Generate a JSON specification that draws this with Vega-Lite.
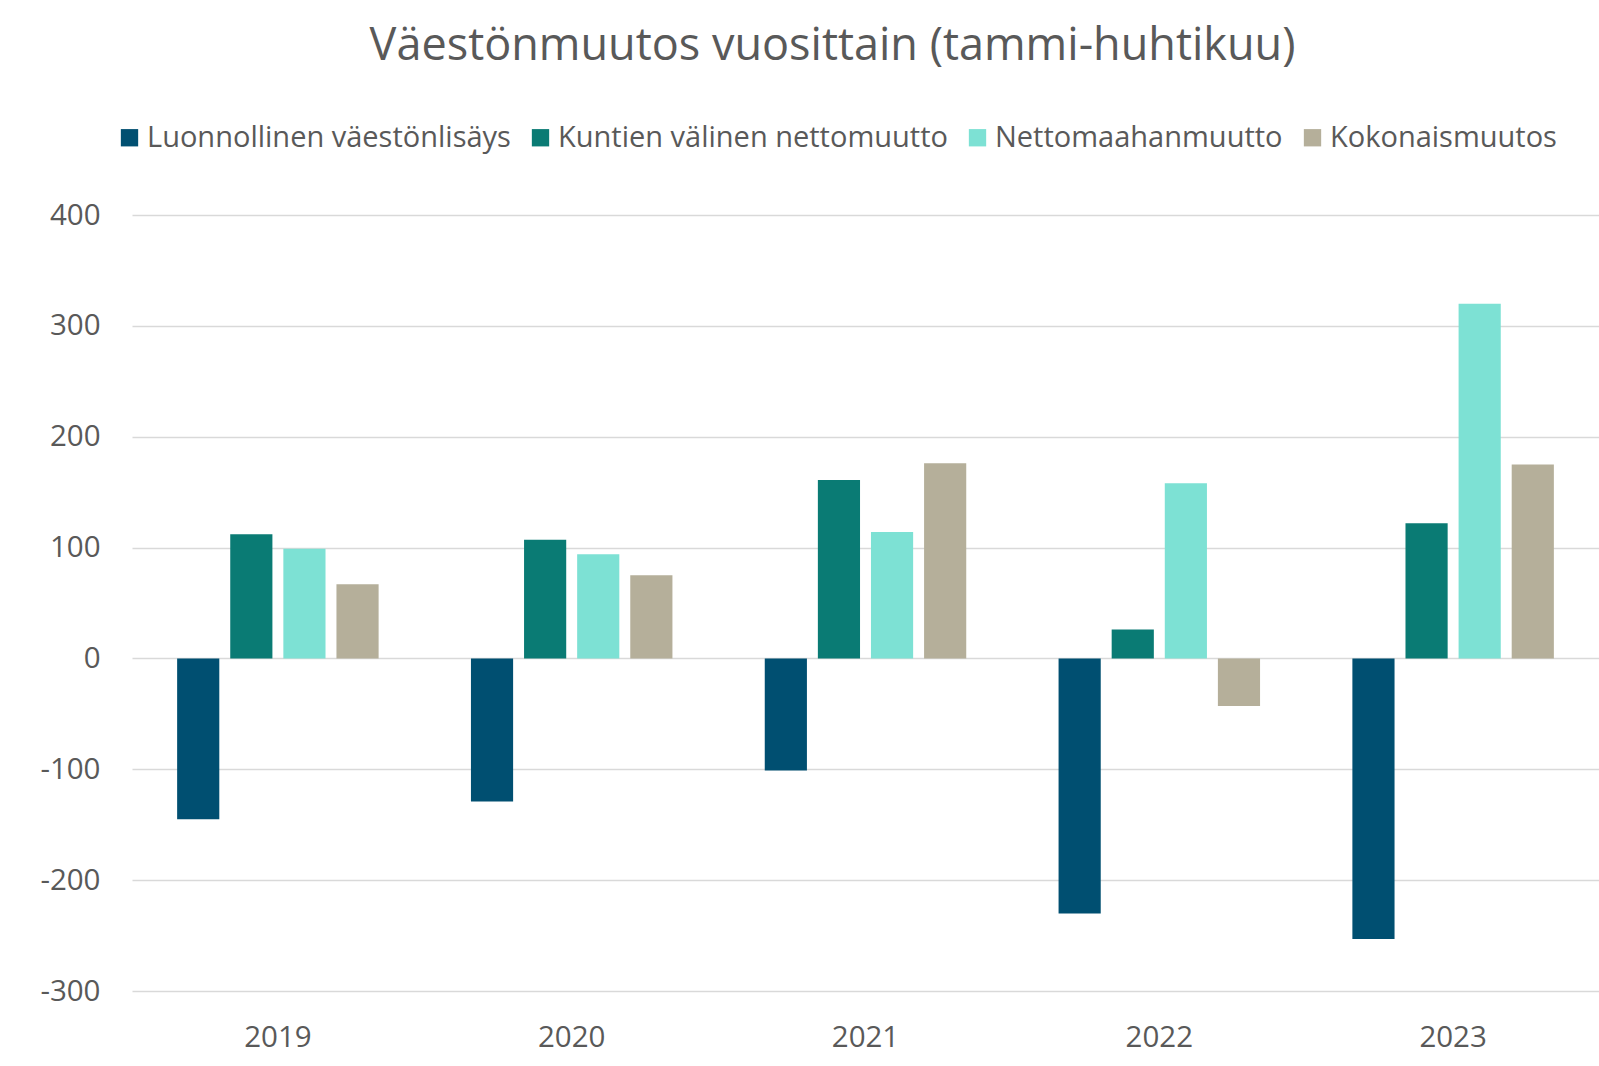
{
  "$schema": "https://vega.github.io/schema/vega-lite/v6.json",
  "width": 1467,
  "height": 776,
  "autosize": {"type": "none"},
  "padding": {"left": 132, "top": 215, "right": 0, "bottom": 75},
  "background": "white",
  "title": {
    "text": "Väestönmuutos vuosittain (tammi-huhtikuu)",
    "font": "Open Sans",
    "fontSize": 45,
    "fontWeight": "normal",
    "color": "#595959",
    "anchor": "middle",
    "dx": -33,
    "offset": 54
  },
  "data": {
    "values": [
      {"vuosi": "2019", "sarja": "Luonnollinen väestönlisäys", "arvo": -145},
      {"vuosi": "2019", "sarja": "Kuntien välinen nettomuutto", "arvo": 112},
      {"vuosi": "2019", "sarja": "Nettomaahanmuutto", "arvo": 99},
      {"vuosi": "2019", "sarja": "Kokonaismuutos", "arvo": 67},
      {"vuosi": "2020", "sarja": "Luonnollinen väestönlisäys", "arvo": -129},
      {"vuosi": "2020", "sarja": "Kuntien välinen nettomuutto", "arvo": 107},
      {"vuosi": "2020", "sarja": "Nettomaahanmuutto", "arvo": 94},
      {"vuosi": "2020", "sarja": "Kokonaismuutos", "arvo": 75},
      {"vuosi": "2021", "sarja": "Luonnollinen väestönlisäys", "arvo": -101},
      {"vuosi": "2021", "sarja": "Kuntien välinen nettomuutto", "arvo": 161},
      {"vuosi": "2021", "sarja": "Nettomaahanmuutto", "arvo": 114},
      {"vuosi": "2021", "sarja": "Kokonaismuutos", "arvo": 176},
      {"vuosi": "2022", "sarja": "Luonnollinen väestönlisäys", "arvo": -230},
      {"vuosi": "2022", "sarja": "Kuntien välinen nettomuutto", "arvo": 26},
      {"vuosi": "2022", "sarja": "Nettomaahanmuutto", "arvo": 158},
      {"vuosi": "2022", "sarja": "Kokonaismuutos", "arvo": -43},
      {"vuosi": "2023", "sarja": "Luonnollinen väestönlisäys", "arvo": -253},
      {"vuosi": "2023", "sarja": "Kuntien välinen nettomuutto", "arvo": 122},
      {"vuosi": "2023", "sarja": "Nettomaahanmuutto", "arvo": 320},
      {"vuosi": "2023", "sarja": "Kokonaismuutos", "arvo": 175}
    ]
  },
  "mark": {"type": "bar"},
  "encoding": {
    "x": {
      "field": "vuosi",
      "type": "nominal",
      "scale": {"paddingInner": 0.277, "paddingOuter": 0.135},
      "axis": {
        "title": null,
        "domain": false,
        "ticks": false,
        "labelAngle": 0,
        "labelPadding": 32,
        "labelFont": "Open Sans",
        "labelFontSize": 29.5,
        "labelColor": "#595959"
      }
    },
    "xOffset": {
      "field": "sarja",
      "type": "nominal",
      "sort": ["Luonnollinen väestönlisäys", "Kuntien välinen nettomuutto", "Nettomaahanmuutto", "Kokonaismuutos"],
      "scale": {"paddingInner": 0.206, "paddingOuter": 0.103}
    },
    "y": {
      "field": "arvo",
      "type": "quantitative",
      "scale": {"domain": [-300, 400], "nice": false},
      "axis": {
        "title": null,
        "values": [-300, -200, -100, 0, 100, 200, 300, 400],
        "labelExpr": "'' + datum.value",
        "grid": true,
        "gridColor": "#D9D9D9",
        "gridWidth": 1.5,
        "domain": false,
        "ticks": false,
        "labelPadding": 32,
        "labelFont": "Open Sans",
        "labelFontSize": 29.5,
        "labelColor": "#595959"
      }
    },
    "color": {
      "field": "sarja",
      "type": "nominal",
      "sort": ["Luonnollinen väestönlisäys", "Kuntien välinen nettomuutto", "Nettomaahanmuutto", "Kokonaismuutos"],
      "scale": {
        "domain": ["Luonnollinen väestönlisäys", "Kuntien välinen nettomuutto", "Nettomaahanmuutto", "Kokonaismuutos"],
        "range": ["#004F71", "#0A7B74", "#7DE1D4", "#B5AF9A"]
      },
      "legend": {
        "title": null,
        "orient": "none",
        "legendX": -17,
        "legendY": -92,
        "direction": "horizontal",
        "symbolType": "square",
        "symbolSize": 300,
        "symbolStrokeWidth": 0,
        "labelFont": "Open Sans",
        "labelFontSize": 29,
        "labelColor": "#595959",
        "labelOffset": 3,
        "columnPadding": 15,
        "labelLimit": 700
      }
    }
  },
  "config": {
    "view": {"stroke": null}
  }
}
